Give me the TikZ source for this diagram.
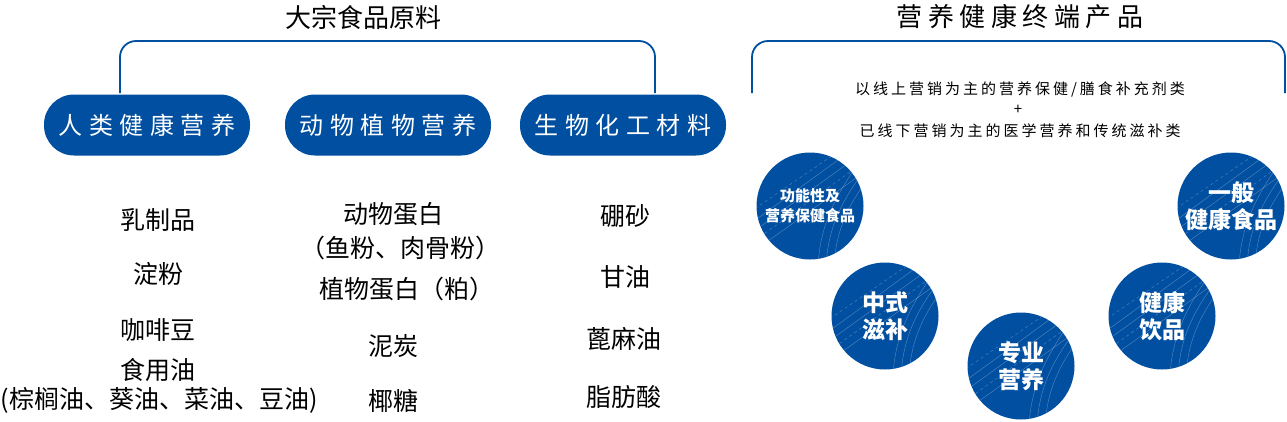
\documentclass[tikz,border=0pt]{standalone}
\usepackage{fontspec}
\setmainfont{Noto Sans CJK SC}
\newfontfamily\cjkbox[LetterSpace=27]{Noto Sans CJK SC}
\newfontfamily\cjksub[LetterSpace=20]{Noto Sans CJK SC}
\newfontfamily\cjkhead[LetterSpace=21]{Noto Sans CJK SC}
\definecolor{nblue}{RGB}{0,79,160}
\newcommand\disctex[1]{%
  \begin{scope}[shift={(#1)}]
    \clip (0,0) circle (53.5);
    \begin{scope}[draw=white, draw opacity=0.3, line width=0.45pt]
      \draw (-60,18) -- (50,-62);
      \draw (-60,28) -- (55,-55);
      \draw[dashed] (-60,6) -- (45,-66);
      \draw[dashed] (-60,38) -- (58,-47);
      \draw (-60,48) -- (60,-38);
      \draw (8,60) .. controls (10,20) and (25,-10) .. (50,-45);
      \draw (16,60) .. controls (18,20) and (33,-8) .. (58,-40);
      \draw (24,60) .. controls (26,22) and (40,-5) .. (64,-35);
    \end{scope}
  \end{scope}}
\begin{document}
\begin{tikzpicture}[x=1pt,y=-1pt]
\tikzset{
 pill/.style={fill=nblue, rounded corners=30pt, minimum width=206pt, minimum height=61pt, text=white, font=\cjkbox\fontsize{24}{24}\selectfont, inner sep=0pt},
 item/.style={font=\fontsize{25}{30}\selectfont, align=center, inner sep=0pt},
 head/.style={font=\fontsize{26}{26}\selectfont, inner sep=0pt},
 sub/.style={font=\cjksub\fontsize{15}{15}\selectfont, inner sep=0pt},
 brk/.style={draw=nblue, line width=1.8pt, rounded corners=16pt},
 disc/.style={circle, fill=nblue, minimum size=107pt, inner sep=0pt},
 dtext/.style={text=white, align=center, font=\bfseries\fontsize{23}{27}\selectfont, inner sep=0pt},
}
\useasboundingbox (0,0) rectangle (1287,421);

% left part
\node[head] (t1) at (363,17) {大宗食品原料};
\coordinate (l1) at (120,93);
\coordinate (l2) at (120,41);
\coordinate (l3) at (655,41);
\coordinate (l4) at (655,93);
\draw[brk] (l1) -- (l2) -- (l3) -- (l4);

\node[pill] (b1) at (147,125) {人类健康营养};
\node[pill] (b2) at (388,125) {动物植物营养};
\node[pill] (b3) at (623,125) {生物化工材料};

\node[item] (a1) at (158,220) {乳制品};
\node[item] (a2) at (158,274) {淀粉};
\node[item] (a3) at (158,330) {咖啡豆};
\node[item] (a4) at (158,370) {食用油};
\node[item] (a5) at (159,400) {(棕榈油、葵油、菜油、豆油)};

\node[item] (m1) at (393,214) {动物蛋白};
\node[item] (m2) at (400,248) {（鱼粉、肉骨粉）};
\node[item] (m3) at (407,289) {植物蛋白（粕）};
\node[item] (m4) at (393,346) {泥炭};
\node[item] (m5) at (393,401) {椰糖};

\node[item] (r1) at (625,216) {硼砂};
\node[item] (r2) at (625,277) {甘油};
\node[item] (r3) at (624,339) {蓖麻油};
\node[item] (r4) at (624,397) {脂肪酸};

% right part
\node[head, font=\cjkhead\fontsize{26}{26}\selectfont] (t2) at (1020,17) {营养健康终端产品};
\coordinate (q1) at (752,93);
\coordinate (q2) at (752,41);
\coordinate (q3) at (1285,41);
\coordinate (q4) at (1285,93);
\draw[brk] (q1) -- (q2) -- (q3) -- (q4);

\node[sub] (s1) at (1020,89) {以线上营销为主的营养保健/膳食补充剂类};
\node[sub] (s2) at (1018,110) {+};
\node[sub] (s3) at (1020,131) {已线下营销为主的医学营养和传统滋补类};

\node[disc] (c1) at (810,206) {};
\node[disc] (c2) at (885,316) {};
\node[disc] (c3) at (1021,366) {};
\node[disc] (c4) at (1162,316) {};
\node[disc] (c5) at (1231,206) {};
\disctex{c1}\disctex{c2}\disctex{c3}\disctex{c4}\disctex{c5}

\node[dtext, font=\bfseries\fontsize{15}{20}\selectfont] (d1) at (c1) {功能性及\\营养保健食品};
\node[dtext] (d2) at (c2) {中式\\滋补};
\node[dtext] (d3) at (c3) {专业\\营养};
\node[dtext] (d4) at (c4) {健康\\饮品};
\node[dtext] (d5) at (c5) {一般\\健康食品};
\end{tikzpicture}
\end{document}
